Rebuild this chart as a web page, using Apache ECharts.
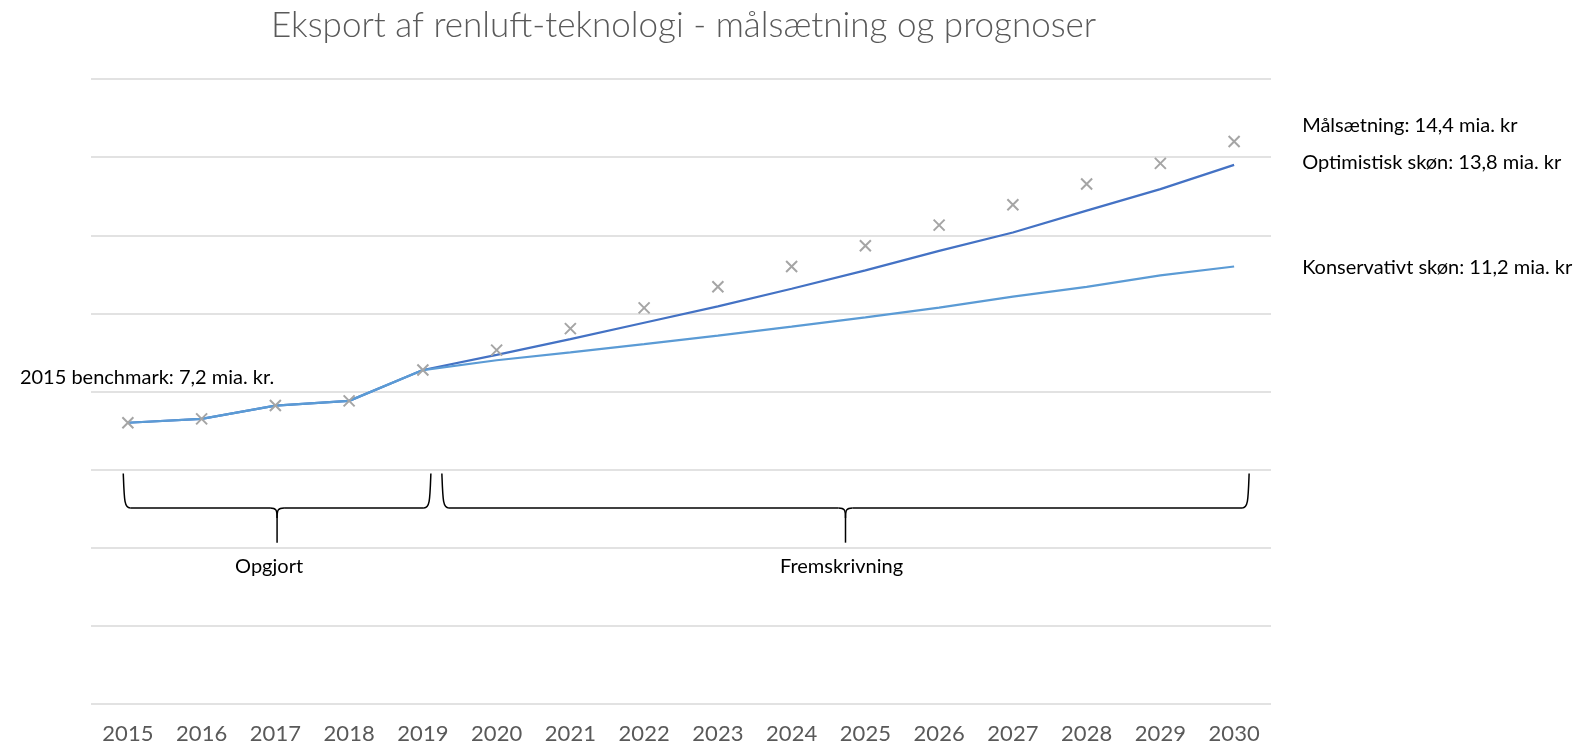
<!DOCTYPE html>
<html>
<head>
<meta charset="utf-8">
<script src="https://cdn.jsdelivr.net/npm/echarts@6/dist/echarts.min.js"></script>
<style>
html,body{margin:0;padding:0;background:#fff;}
#chart{width:1594px;height:746px;}
</style>
</head>
<body>
<div id="chart"></div>
<script>
// ---- data ----
const years = ['2015','2016','2017','2018','2019','2020','2021','2022','2023','2024','2025','2026','2027','2028','2029','2030'];
const target = [7.2, 7.3, 7.64, 7.76, 8.55, 9.06, 9.61, 10.14, 10.68, 11.2, 11.73, 12.26, 12.78, 13.31, 13.84, 14.4];
const optimistic = [7.2, 7.3, 7.64, 7.76, 8.55, 8.94, 9.34, 9.76, 10.18, 10.63, 11.1, 11.6, 12.07, 12.63, 13.18, 13.8];
const conservative = [7.2, 7.3, 7.64, 7.76, 8.55, 8.8, 9.0, 9.21, 9.43, 9.66, 9.9, 10.15, 10.43, 10.68, 10.97, 11.2];
const yTicks = {min: 0, max: 16, interval: 2};
const titleText = 'Eksport af renluft-teknologi - målsætning og prognoser';
const benchmarkLabel = '2015 benchmark: 7,2 mia. kr.';
const targetLabel = 'Målsætning: 14,4 mia. kr';
const optimisticLabel = 'Optimistisk skøn: 13,8 mia. kr';
const conservativeLabel = 'Konservativt skøn: 11,2 mia. kr';
const periodLabels = ['Opgjort', 'Fremskrivning'];

const FONT = 'Lato, "Open Sans", sans-serif';
const chart = echarts.init(document.getElementById('chart'), null, {renderer: 'canvas'});

const option = {
  backgroundColor: '#ffffff',
  animation: false,
  title: {
    text: titleText,
    left: 266, top: 3,
    textStyle: {fontFamily: FONT, fontSize: 35, fontWeight: 300, color: '#595959'}
  },
  grid: {left: 91, right: 323, top: 79, bottom: 42, containLabel: false},
  xAxis: {
    type: 'category', data: years, boundaryGap: true,
    axisLine: {show: false}, axisTick: {show: false},
    axisLabel: {fontFamily: FONT, fontSize: 22, color: '#595959', margin: 19}
  },
  yAxis: {
    type: 'value', min: yTicks.min, max: yTicks.max, interval: yTicks.interval,
    axisLabel: {show: false}, axisLine: {show: false}, axisTick: {show: false},
    splitLine: {lineStyle: {color: '#D9D9D9', width: 1.5}}
  },
  series: [
    {
      name: 'Optimistisk', type: 'line', data: optimistic,
      symbol: 'none', lineStyle: {color: '#4472C4', width: 2.25}, z: 2
    },
    {
      name: 'Konservativt', type: 'line', data: conservative,
      symbol: 'none', lineStyle: {color: '#5B9BD5', width: 2.25}, z: 3
    },
    {
      name: 'Målsætning', type: 'line', data: target,
      lineStyle: {width: 0, opacity: 0},
      symbol: 'path://M0,0L10,10M10,0L0,10', symbolSize: 11,
      itemStyle: {color: 'rgba(0,0,0,0)', borderColor: '#A5A5A5', borderWidth: 2},
      z: 4
    }
  ]
};
chart.setOption(option);

function px(i, v) { return chart.convertToPixel({gridIndex: 0}, [i, v]); }
const last = years.length - 1;
const BR = {stroke: '#000000', fill: null, lineWidth: 1.5};

function brace(x0, x1, xm, yTop, yH, yTip) {
  const r = 7, rv = 10;
  return [
    {type: 'bezierCurve', silent: true, style: BR,
     shape: {x1: x0, y1: yTop, cpx1: x0 + 1, cpy1: yH - 8, cpx2: x0 + 1, cpy2: yH, x2: x0 + r, y2: yH}},
    {type: 'line', silent: true, style: BR, shape: {x1: x0 + r, y1: yH, x2: xm - r, y2: yH}},
    {type: 'bezierCurve', silent: true, style: BR,
     shape: {x1: xm - r, y1: yH, cpx1: xm - 1, cpy1: yH, cpx2: xm, cpy2: yH + 2, x2: xm, y2: yH + rv}},
    {type: 'line', silent: true, style: BR, shape: {x1: xm, y1: yH + rv, x2: xm, y2: yTip}},
    {type: 'bezierCurve', silent: true, style: BR,
     shape: {x1: xm + r, y1: yH, cpx1: xm + 1, cpy1: yH, cpx2: xm, cpy2: yH + 2, x2: xm, y2: yH + rv}},
    {type: 'line', silent: true, style: BR, shape: {x1: xm + r, y1: yH, x2: x1 - r, y2: yH}},
    {type: 'bezierCurve', silent: true, style: BR,
     shape: {x1: x1, y1: yTop, cpx1: x1 - 1, cpy1: yH - 8, cpx2: x1 - 1, cpy2: yH, x2: x1 - r, y2: yH}}
  ];
}

const p0 = px(0, 0), p4 = px(4, 0), pL = px(last, 0);
const yTop = px(0, 5.9)[1], yH = px(0, 5.02)[1], yTip = px(0, 4.13)[1];
const lx0 = p0[0] - 4.6, lx1 = p4[0] + 8;
const rx0 = p4[0] + 19, rx1 = pL[0] + 15;
const lm = (lx0 + lx1) / 2, rm = (rx0 + rx1) / 2;
const yPer = px(0, 3.52)[1];

const pB = px(0, target[0]);
const pT = px(last, target[last]);
const pO = px(last, optimistic[last]);
const pC = px(last, conservative[last]);

const tStyle = (txt, x, y, align) => ({
  type: 'text', x: x, y: y, silent: true,
  style: {text: txt, fontFamily: FONT, fontSize: 20, fill: '#000000', align: align || 'left', verticalAlign: 'middle'}
});

chart.setOption({
  graphic: [].concat(
    brace(lx0, lx1, lm, yTop, yH, yTip),
    brace(rx0, rx1, rm, yTop, yH, yTip),
    [
      tStyle(periodLabels[0], lm - 8, yPer, 'center'),
      tStyle(periodLabels[1], rm - 4, yPer, 'center'),
      tStyle(benchmarkLabel, pB[0] - 108, pB[1] - 45.6),
      tStyle(targetLabel, pT[0] + 68, pT[1] - 16),
      tStyle(optimisticLabel, pO[0] + 68, pO[1] - 2.5),
      tStyle(conservativeLabel, pC[0] + 68, pC[1] + 1)
    ]
  )
});
</script>
</body>
</html>
